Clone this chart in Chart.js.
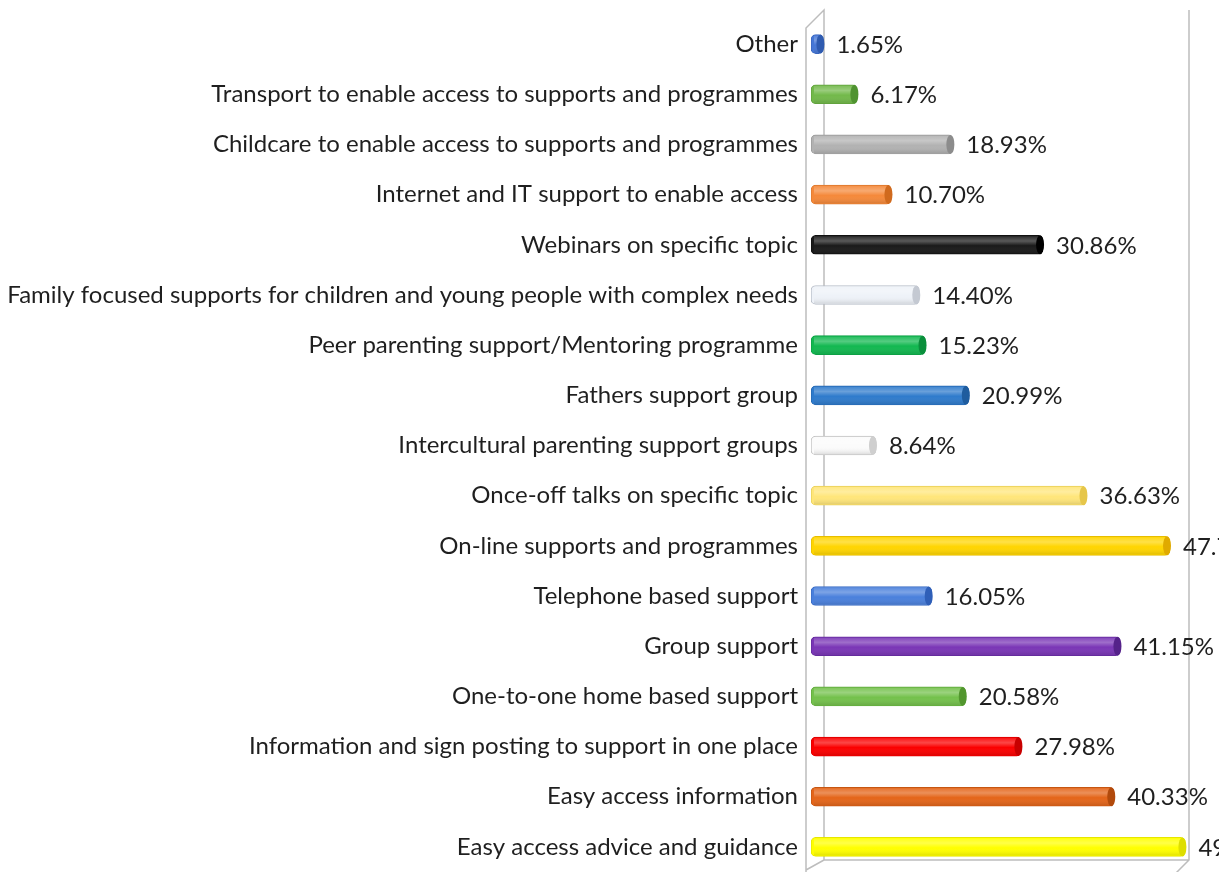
<!DOCTYPE html>
<html>
<head>
<meta charset="utf-8">
<script src="https://cdn.jsdelivr.net/npm/chart.js@4"></script>
<style>
  html, body { margin: 0; padding: 0; background: #fff; }
  #wrap { width: 1219px; height: 872px; }
</style>
</head>
<body>
<div id="wrap"><canvas id="grafico"></canvas></div>
<script>
// datos, de arriba hacia abajo
const categorias = [
  "Other",
  "Transport to enable access to supports and programmes",
  "Childcare to enable access to supports and programmes",
  "Internet and IT support to enable access",
  "Webinars on specific topic",
  "Family focused supports for children and young people with complex needs",
  "Peer parenting support/Mentoring programme",
  "Fathers support group",
  "Intercultural parenting support groups",
  "Once-off talks on specific topic",
  "On-line supports and programmes",
  "Telephone based support",
  "Group support",
  "One-to-one home based support",
  "Information and sign posting to support in one place",
  "Easy access information",
  "Easy access advice and guidance"
];
const valores = [1.65, 6.17, 18.93, 10.70, 30.86, 14.40, 15.23, 20.99, 8.64, 36.63, 47.74, 16.05, 41.15, 20.58, 27.98, 40.33, 49.79];
const colores = ["#4677d6", "#72b94a", "#b2b2b2", "#f5893a", "#1a1a1a", "#eef2f8", "#12b850", "#2f7bcc", "#fbfbfb", "#ffe67a", "#ffd500", "#4a80dc", "#7a36b6", "#74c14c", "#fb0000", "#e4651a", "#ffff00"];
const tapas = ["#2f5bb0", "#4f9330", "#8c8c8c", "#d06a1e", "#000000", "#c4c9d2", "#0a8f3c", "#1f5c9e", "#cfcfcf", "#e6c64a", "#e0aa00", "#2f5fb8", "#55228a", "#52962e", "#c80000", "#b24a0c", "#dede00"];
const bordes = ["#3a66be", "#62a23e", "#9a9a9a", "#dd7a30", "#111111", "#b8bec8", "#0e9f45", "#2868b0", "#c0c0c0", "#e8cf5a", "#e6bd00", "#3d6dc4", "#642c9c", "#62a83e", "#dd0000", "#c65612", "#e6e600"];

const fuente = "Lato, 'Open Sans', sans-serif";

// paredes del grafico 3D
const paredes = {
  id: "paredes",
  beforeDatasetsDraw(chart) {
    const { ctx, chartArea, scales } = chart;
    const x0 = scales.x.getPixelForValue(0);
    const x50 = scales.x.getPixelForValue(50);
    const top = chartArea.top, bottom = chartArea.bottom;
    ctx.save();
    ctx.strokeStyle = "#bdbdbd";
    ctx.lineWidth = 1.5;
    ctx.beginPath();
    ctx.moveTo(x0 - 5, bottom);
    ctx.lineTo(x0 - 5, top + 9);
    ctx.lineTo(x0 + 13, top - 9);
    ctx.lineTo(x0 + 13, bottom - 12);
    ctx.lineTo(x50 + 2, bottom - 12);
    ctx.moveTo(x50 + 2, top - 9);
    ctx.lineTo(x50 + 2, bottom - 12);
    ctx.lineTo(x50 - 16, bottom + 6);
    ctx.moveTo(x0 - 5, bottom - 2);
    ctx.lineTo(x0 + 13, bottom - 12);
    ctx.stroke();
    ctx.restore();
  }
};

// brillo de cilindro, tapa y etiqueta de valor
const cilindros = {
  id: "cilindros",
  afterDatasetsDraw(chart) {
    const { ctx } = chart;
    const meta = chart.getDatasetMeta(0);
    ctx.save();
    meta.data.forEach((bar, i) => {
      const h = bar.height;
      const yTop = bar.y - h / 2;
      const g = ctx.createLinearGradient(0, yTop, 0, yTop + h);
      g.addColorStop(0, "rgba(255,255,255,0.05)");
      g.addColorStop(0.3, "rgba(255,255,255,0.28)");
      g.addColorStop(0.55, "rgba(255,255,255,0)");
      g.addColorStop(1, "rgba(0,0,0,0.14)");
      ctx.fillStyle = g;
      ctx.fillRect(bar.base + 3, yTop + 1, bar.x - bar.base - 6, h - 2);

      ctx.beginPath();
      ctx.ellipse(bar.x - 3, bar.y, 4, h / 2, 0, 0, Math.PI * 2);
      ctx.fillStyle = tapas[i];
      ctx.fill();

      ctx.fillStyle = "#1f1f1f";
      ctx.font = "24px " + fuente;
      ctx.textAlign = "left";
      ctx.textBaseline = "middle";
      ctx.fillText(valores[i].toFixed(2) + "%", bar.x + 13, bar.y + 1);
    });
    ctx.restore();
  }
};

new Chart(document.getElementById("grafico"), {
  type: "bar",
  data: {
    labels: categorias,
    datasets: [{
      data: valores,
      backgroundColor: colores,
      borderColor: bordes,
      borderWidth: 1,
      borderSkipped: false,
      borderRadius: 5,
      barThickness: 19
    }]
  },
  options: {
    indexAxis: "y",
    responsive: true,
    maintainAspectRatio: false,
    animation: false,
    layout: { padding: { top: 19, right: 32, bottom: 0, left: 0 } },
    plugins: {
      legend: { display: false },
      tooltip: { enabled: false }
    },
    scales: {
      x: {
        display: false,
        min: 0,
        max: 50
      },
      y: {
        grid: { display: false },
        border: { display: false },
        ticks: {
          autoSkip: false,
          padding: 5,
          color: "#1f1f1f",
          font: { family: fuente, size: 24 }
        },
        afterFit(scale) {
          scale.width = 811;
          scale.paddingTop = 0;
          scale.paddingBottom = 0;
        }
      }
    }
  },
  plugins: [paredes, cilindros]
});
</script>
</body>
</html>
